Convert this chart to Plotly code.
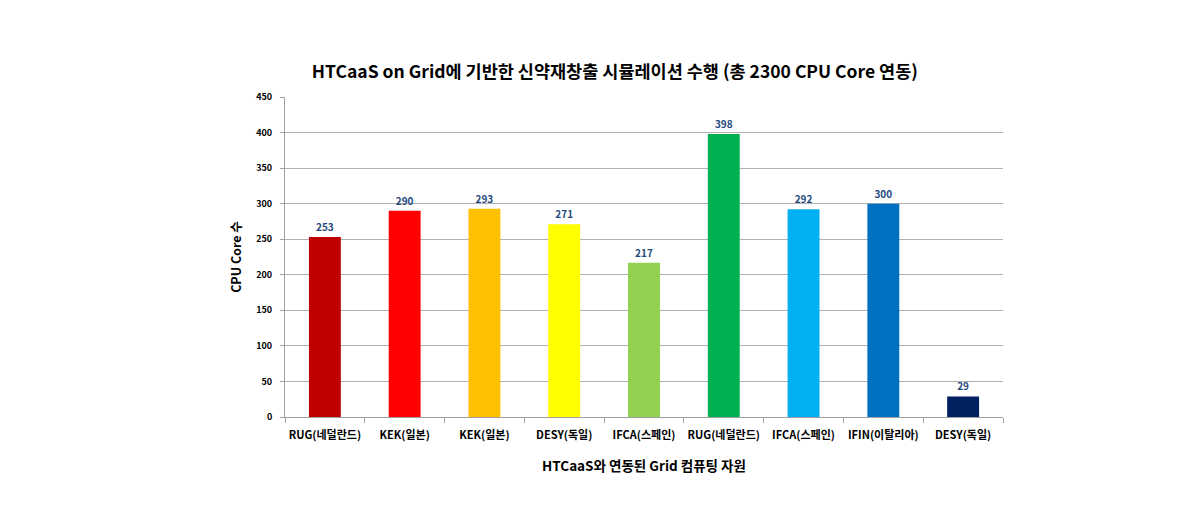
import plotly.graph_objects as go

categories = ["RUG(네덜란드)", "KEK(일본)", "KEK(일본)", "DESY(독일)", "IFCA(스페인)",
              "RUG(네덜란드)", "IFCA(스페인)", "IFIN(이탈리아)", "DESY(독일)"]
values = [253, 290, 293, 271, 217, 398, 292, 300, 29]
colors = ["#C00000", "#FF0000", "#FFC000", "#FFFF00", "#92D050",
          "#00B050", "#00B0F0", "#0070C0", "#002060"]
y_ticks = [0, 50, 100, 150, 200, 250, 300, 350, 400, 450]

FONT = "Noto Sans CJK KR"
idx = list(range(len(categories)))

fig = go.Figure(go.Bar(
    x=idx, y=values, marker=dict(color=colors, line=dict(width=0)),
    width=0.4, text=[f"<b>{v}</b>" for v in values], textposition="outside",
    textfont=dict(family=FONT, size=10, color="#1F497D"), cliponaxis=False,
))

fig.update_layout(
    width=1190, height=515,
    paper_bgcolor="white", plot_bgcolor="white",
    margin=dict(l=277, r=195, t=89, b=106),
    showlegend=False,
    font=dict(family=FONT, color="black"),
    title=dict(text="<b>HTCaaS on Grid에 기반한 신약재창출 시뮬레이션 수행 (총 2300 CPU Core 연동)</b>",
               x=0.51, xanchor="center", y=0.876, yanchor="middle",
               font=dict(family=FONT, size=17.5, color="black")),
)
fig.update_xaxes(
    tickmode="array", tickvals=idx, ticktext=[f"<b>{c}</b>" for c in categories],
    tickfont=dict(family=FONT, size=11, color="black"),
    range=[-0.5, len(categories) - 0.5],
    showline=True, linecolor="#A0A0A0", linewidth=1,
    ticks="", showgrid=False, zeroline=False, ticklabelstandoff=8,
    minor=dict(tickmode="array", tickvals=[i + 0.5 for i in range(-1, len(categories))],
               ticks="outside", ticklen=5, tickcolor="#A0A0A0", showgrid=False),
    title=dict(text="<b>HTCaaS와 연동된 Grid 컴퓨팅 자원</b>",
               font=dict(family=FONT, size=13.5, color="black"), standoff=20),
)
fig.update_yaxes(
    range=[0, 450], tickmode="array", tickvals=y_ticks,
    ticktext=[f"<b>{t}</b>" for t in y_ticks],
    tickfont=dict(family=FONT, size=9, color="black"),
    showline=True, linecolor="#A0A0A0", linewidth=1,
    ticks="outside", ticklen=4, tickcolor="#A0A0A0", ticklabelstandoff=6,
    showgrid=True, gridcolor="#B0B0B0", gridwidth=1, zeroline=False,
    title=dict(text="<b>CPU Core 수</b>", font=dict(family=FONT, size=12.5, color="black"), standoff=11),
)

fig.write_html("out.html")
